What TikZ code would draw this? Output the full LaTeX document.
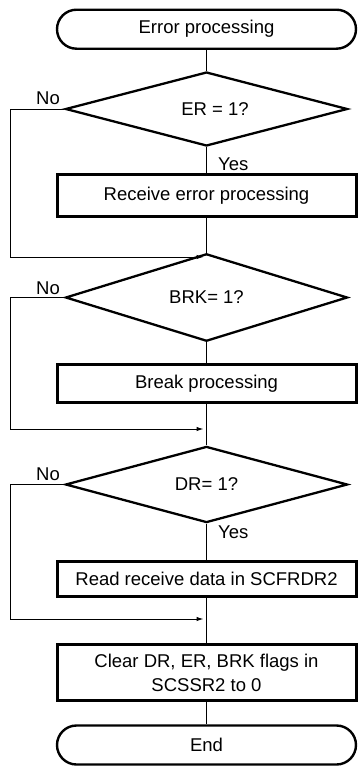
\documentclass[tikz,border=0pt]{standalone}
\usepackage{fontspec}
\setmainfont{Liberation Sans}
\usetikzlibrary{shapes.geometric,arrows.meta}
\begin{document}
\begin{tikzpicture}[x=1pt,y=-1pt,>={Latex[length=7pt,width=4.5pt]},
    font=\fontsize{18.5}{24}\selectfont,
    term/.style={draw,line width=2.4pt,rounded corners=19.5pt,minimum width=299pt,minimum height=39pt,inner sep=0pt},
    proc/.style={draw,line width=3pt,minimum width=299pt,inner sep=0pt,align=center},
    cond/.style={draw,diamond,line width=2.3pt,minimum width=282pt,minimum height=74pt,inner sep=0pt},
    flow/.style={line width=1pt}]
    \useasboundingbox (0,0) rectangle (357,766);

    \node[term] (start) at (206.5,29.2) {Error processing};
    \node[cond] (er) at (206.5,109) {};
    \node (ertxt) at (215,109) {ER = 1?};
    \node[proc,minimum height=42pt] (rxerr) at (206.5,195.7) {Receive error processing};
    \coordinate (j1) at (206.5,257);
    \node[cond] (brk) at (206.5,297.5) {BRK= 1?};
    \node[proc,minimum height=38pt] (brkp) at (206.5,383.5) {Break processing};
    \coordinate (j2) at (206.5,429);
    \node[cond] (dr) at (206.5,484.5) {DR= 1?};
    \node[proc,minimum height=35pt] (rdata) at (206.5,579) {Read receive data in SCFRDR2};
    \coordinate (j3) at (206.5,619);
    \node[proc,minimum height=56pt] (clr) at (206.5,672.5) {Clear DR, ER, BRK flags in\\SCSSR2 to 0};
    \node[term] (stop) at (206.5,745) {End};
    \coordinate (lx) at (10,0);

    % main line
    \draw[flow] (start) -- (er);
    \draw[flow] (er) -- (rxerr);
    \draw[flow] (rxerr) -- (brk);
    \draw[flow] (brk) -- (brkp);
    \draw[flow] (brkp) -- (dr);
    \draw[flow] (dr) -- (rdata);
    \draw[flow] (rdata) -- (clr);
    \draw[flow] (clr) -- (stop);

    % No branches
    \draw[flow,->,shorten >=3pt] (er.west) -- (er.west -| lx) |- (j1);
    \draw[flow,->,shorten >=3pt] (brk.west) -- (brk.west -| lx) |- (j2);
    \draw[flow,->,shorten >=3pt] (dr.west) -- (dr.west -| lx) |- (j3);

    \node (no1) at (48,98) {No};
    \node (no2) at (48,288) {No};
    \node (no3) at (48,474) {No};
    \node[anchor=west,inner sep=0pt] (yes1) at (218,164) {Yes};
    \node[anchor=west,inner sep=0pt] (yes3) at (218,532) {Yes};
\end{tikzpicture}
\end{document}
